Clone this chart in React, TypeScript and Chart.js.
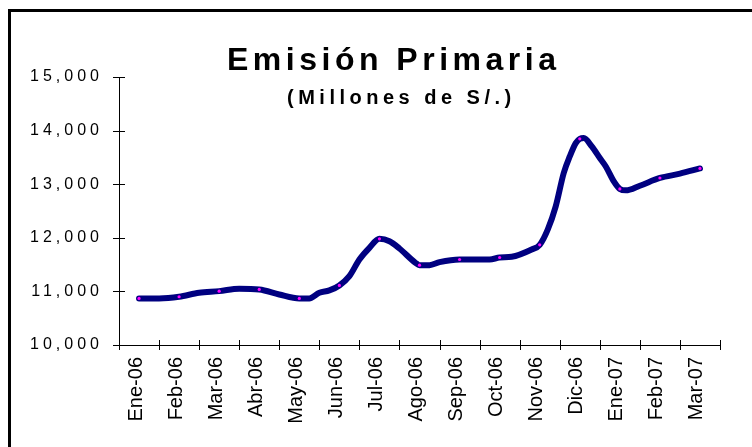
import React, { useEffect, useRef } from 'react';
import { Chart, registerables } from 'chart.js';

Chart.register(...registerables);

const monthLabels = [
  'Ene-06', 'Feb-06', 'Mar-06', 'Abr-06', 'May-06', 'Jun-06', 'Jul-06', 'Ago-06',
  'Sep-06', 'Oct-06', 'Nov-06', 'Dic-06', 'Ene-07', 'Feb-07', 'Mar-07',
];

// monthly values (magenta markers)
const monthlyValues = [
  10869, 10900, 11005, 11037, 10869, 11111, 11980, 11490,
  11595, 11632, 11869, 13847, 12911, 13116, 13294,
];

// detailed series (position in months from Ene-06, value)
const lineMonths = [
  0, 0.5, 1, 1.5, 2, 2.5, 3, 3.5, 4, 4.25, 4.5, 4.75, 5, 5.25, 5.5, 5.75, 6, 6.25, 6.5, 6.9,
  7, 7.25, 7.5, 8, 8.75, 9, 9.3, 9.8, 10, 10.2, 10.4, 10.6, 10.75, 10.9, 11, 11.1, 11.3, 11.5,
  11.65, 11.85, 12, 12.15, 12.5, 13, 13.5, 14,
];
const lineValues = [
  10869, 10869, 10900, 10975, 11005, 11050, 11037, 10943, 10869, 10869, 10975, 11018, 11111, 11284,
  11595, 11813, 11980, 11936, 11800, 11533, 11490, 11489, 11545, 11595, 11595, 11632, 11645, 11781,
  11869, 12153, 12587, 13209, 13518, 13767, 13847, 13860, 13704, 13488, 13331, 13052, 12911, 12885,
  12972, 13116, 13196, 13294,
];

const yMin = 10000;
const yMax = 15000;
const yStep = 1000;

const titleText = 'Emisión Primaria';
const subtitleText = '(Millones de S/.)';

const FONT = '"Liberation Sans", Arial, sans-serif';

const framePlugin = {
  id: 'frame',
  beforeDraw(chart: any) {
    const ctx = chart.ctx;
    ctx.save();
    ctx.fillStyle = '#ffffff';
    ctx.fillRect(0, 0, chart.width, chart.height);
    ctx.strokeStyle = '#000000';
    ctx.lineWidth = 3;
    ctx.beginPath();
    ctx.moveTo(9.5, chart.height + 5);
    ctx.lineTo(9.5, 10.5);
    ctx.lineTo(chart.width + 5, 10.5);
    ctx.stroke();
    ctx.restore();
  },
};

const tickMarksPlugin = {
  id: 'tickMarks',
  afterDraw(chart: any) {
    const ctx = chart.ctx;
    const area = chart.chartArea;
    const xs = chart.scales.x;
    const ys = chart.scales.y;
    ctx.save();
    ctx.strokeStyle = '#000000';
    ctx.lineWidth = 1;
    ctx.beginPath();
    ys.ticks.forEach((t: any) => {
      const py = Math.round(ys.getPixelForValue(t.value)) + 0.5;
      ctx.moveTo(area.left - 6, py);
      ctx.lineTo(area.left + 6, py);
    });
    for (let i = 0; i <= monthLabels.length; i++) {
      const px = Math.round(xs.getPixelForValue(i - 0.5)) + 0.5;
      ctx.moveTo(px, area.bottom - 5);
      ctx.lineTo(px, area.bottom + 5);
    }
    ctx.stroke();
    ctx.restore();
  },
};

const titlePlugin = {
  id: 'spacedTitle',
  afterDraw(chart: any) {
    const ctx = chart.ctx;
    ctx.save();
    ctx.fillStyle = '#000000';
    ctx.textAlign = 'left';
    ctx.textBaseline = 'alphabetic';
    ctx.font = `bold 32px ${FONT}`;
    (ctx as any).letterSpacing = '4.5px';
    ctx.fillText(titleText, 227, 70);
    ctx.font = `bold 20px ${FONT}`;
    (ctx as any).letterSpacing = '4.5px';
    ctx.fillText(subtitleText, 287, 104);
    ctx.restore();
  },
};

const ySpacingPlugin = {
  id: 'ySpacing',
  afterLayout(chart: any) {
    const ys = chart.scales.y;
    if (ys && !ys.__spaced) {
      const orig = ys.drawLabels.bind(ys);
      ys.drawLabels = (area: any) => {
        const ctx = chart.ctx;
        ctx.save();
        (ctx as any).letterSpacing = '4px';
        orig(area);
        ctx.restore();
      };
      ys.__spaced = true;
    }
  },
};

export default function App() {
  const canvasRef = useRef<HTMLCanvasElement | null>(null);

  useEffect(() => {
    if (!canvasRef.current) return;
    const chart = new Chart(canvasRef.current, {
      type: 'line',
      data: {
        datasets: [
          {
            label: 'Marcadores',
            data: monthlyValues.map((v, i) => ({ x: i, y: v })),
            showLine: false,
            pointRadius: 1.6,
            pointBackgroundColor: '#FF00FF',
            pointBorderWidth: 0,
            order: 1,
          },
          {
            label: 'Emisión Primaria',
            data: lineMonths.map((m, i) => ({ x: m, y: lineValues[i] })),
            borderColor: '#000080',
            borderWidth: 6,
            pointRadius: 0,
            cubicInterpolationMode: 'monotone',
            borderCapStyle: 'round',
            borderJoinStyle: 'round',
            fill: false,
            order: 2,
          },
        ],
      },
      options: {
        responsive: false,
        animation: false,
        layout: { padding: { top: 77, right: 32, bottom: 0, left: 0 } },
        plugins: {
          legend: { display: false },
          tooltip: { enabled: false },
          title: { display: false },
        },
        scales: {
          x: {
            type: 'linear',
            min: -0.5,
            max: monthLabels.length - 0.5,
            grid: { display: false, drawTicks: false },
            border: { display: true, color: '#000000', width: 1 },
            afterBuildTicks: (s: any) => {
              s.ticks = monthLabels.map((_, i) => ({ value: i }));
            },
            ticks: {
              autoSkip: false,
              maxRotation: 90,
              minRotation: 90,
              padding: 12,
              labelOffset: -3,
              color: '#000000',
              font: { family: FONT, size: 20 },
              callback: (v: any) => monthLabels[Math.round(Number(v))] ?? '',
            },
            afterFit: (s: any) => {
              s.height = 102;
            },
          },
          y: {
            min: yMin,
            max: yMax,
            grid: { display: false, drawTicks: false },
            border: { display: true, color: '#000000', width: 1 },
            ticks: {
              stepSize: yStep,
              padding: 16,
              color: '#000000',
              font: { family: FONT, size: 16 },
              callback: (v: any) => Number(v).toLocaleString('en-US'),
            },
            afterFit: (s: any) => {
              s.width = 119;
            },
          },
        },
      },
      plugins: [framePlugin, ySpacingPlugin, tickMarksPlugin, titlePlugin],
    });
    return () => chart.destroy();
  }, []);

  return (
    <div style={{ position: 'absolute', left: 0, top: 0, width: 752, height: 447, overflow: 'hidden' }}>
      <canvas ref={canvasRef} width={752} height={447} style={{ display: 'block' }} />
    </div>
  );
}
